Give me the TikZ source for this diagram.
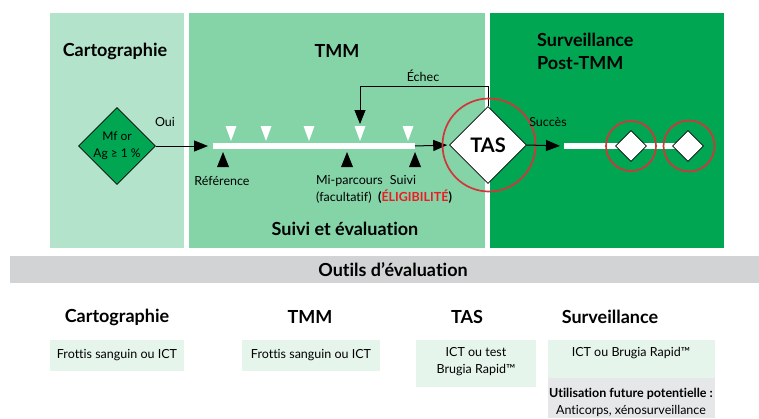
\documentclass[tikz,border=0pt]{standalone}
\usepackage{fontspec}
\setmainfont{Lato}[Ligatures=NoCommon]
\usetikzlibrary{shapes.geometric,arrows.meta}
\definecolor{panelA}{HTML}{B3E4CB}
\definecolor{panelB}{HTML}{84D4A8}
\definecolor{panelC}{HTML}{00A651}
\definecolor{ringred}{HTML}{D2363B}
\definecolor{boxgreen}{HTML}{E6F5EC}
\definecolor{bargray}{HTML}{D1D3D4}
\definecolor{notegray}{HTML}{E6E7E8}
\definecolor{alertred}{HTML}{ED1C24}
\begin{document}
\begin{tikzpicture}[x=1pt,y=-1pt,
  heading/.style={font=\bfseries\fontsize{18}{23}\selectfont, align=center, inner sep=0pt},
  small/.style={font=\fontsize{12.5}{17}\selectfont, inner sep=0pt},
  arr/.style={line width=1pt, -{Triangle[length=14pt,width=11pt]}},
  decision/.style={diamond, draw=black, line width=0.6pt, aspect=1, inner sep=0pt},
  ring/.style={circle, draw=ringred, line width=1.7pt, inner sep=0pt},
  toolbox/.style={fill=boxgreen},
]
\useasboundingbox (0,0) rectangle (759,418);
\fill[white] (0,0) rectangle (759,418);

% three phase panels
\fill[panelA] (50,13) rectangle (184,248);
\fill[panelB] (189,13) rectangle (485,248);
\fill[panelC] (490,13) rectangle (724,248);

\node[heading] (tCarto) at (115,51) {Cartographie};
\node[heading] (tTmm) at (337,51) {TMM};
\node[heading, align=left, anchor=west] (tSurv) at (537,51) {Surveillance\\Post-TMM};
\node[heading] (tSuivi) at (345,229) {Suivi et évaluation};

% mapping decision
\node[decision, fill=panelC, minimum width=77pt, minimum height=77pt,
      font=\fontsize{12}{17}\selectfont, align=center] (mf) at (117,146) {Mf or\\Ag ≥ 1 \%};
\node[small] (oui) at (165,122) {Oui};

% MDA timeline bar
\coordinate (barL) at (213,146);
\coordinate (barR) at (415,146);
\draw[arr, shorten >=5pt] (mf.east) -- (barL);
\draw[white, line width=6.5pt] (barL) -- (barR);

% treatment rounds (white) and surveys (black)
\foreach \x in {231,266,309,360,408}
  \fill[white] (\x-5.5,126) -- (\x+5.5,126) -- (\x,141) -- cycle;
\foreach \x in {223,347,415}
  \fill[black] (\x-6,167) -- (\x+6,167) -- (\x,152) -- cycle;

\node[small] (ref) at (222,181) {Référence};
\node[small, anchor=west, align=left] (mid) at (316,189) {Mi-parcours\\(facultatif)};
\node[small] (suivi) at (403,180) {Suivi};
\node[small, font=\bfseries\fontsize{12.5}{14}\selectfont] (elig) at (415,197)
  {(\textcolor{alertred}{ÉLIGIBILITÉ})};

% transmission assessment survey
\node[decision, fill=white, minimum width=77pt, minimum height=77pt,
      font=\bfseries\fontsize{20}{22}\selectfont] (tas) at (488,145) {TAS};
\draw[arr, shorten >=2pt] (barR) -- (tas.west);
\coordinate (loopTip) at (360,124);
\draw[arr] (tas.north) -- ++(0,-20) -| (loopTip);
\node[small] (echec) at (423,76) {Échec};
\node[ring, minimum size=93pt] (tasRing) at (489,145) {};

% post-MDA surveillance
\coordinate (sbarL) at (564,146);
\coordinate (sbarR) at (700,146);
\draw[arr, shorten >=4pt] (tas.east) -- (sbarL);
\node[small] (succes) at (548,122) {Succès};
\draw[white, line width=6.5pt] (sbarL) -- (sbarR);
\node[decision, fill=white, minimum width=31pt, minimum height=31pt] (s1) at (631,146) {};
\node[decision, fill=white, minimum width=31pt, minimum height=31pt] (s2) at (688,146) {};
\node[ring, minimum size=50pt] (r1) at (631,146) {};
\node[ring, minimum size=51pt] (r2) at (689,146) {};

% assessment tools
\fill[bargray] (10,256) rectangle (759,283);
\node[heading] (outils) at (393,270) {Outils d’évaluation};

\node[heading] (hCarto) at (117,317) {Cartographie};
\node[heading] (hTmm) at (310,317) {TMM};
\node[heading] (hTas) at (467,317) {TAS};
\node[heading] (hSurv) at (610,317) {Surveillance};

\fill[toolbox] (50,340) rectangle (184,371);
\fill[toolbox] (242,340) rectangle (380,371);
\fill[toolbox] (416,340) rectangle (536,387);
\fill[toolbox] (548,340) rectangle (715,378);
\fill[notegray] (548,378) rectangle (715,418);

\node[small] (bCarto) at (117,355) {Frottis sanguin ou ICT};
\node[small] (bTmm) at (311,355) {Frottis sanguin ou ICT};
\node[small, align=center] (bTas) at (476,362) {ICT ou test\\Brugia Rapid™};
\node[small] (bSurv) at (631,353) {ICT ou Brugia Rapid™};
\node[small, font=\bfseries\fontsize{12.5}{14}\selectfont] (future) at (631,394) {Utilisation future potentielle :};
\node[small] (anti) at (631,411) {Anticorps, xénosurveillance};
\end{tikzpicture}
\end{document}
